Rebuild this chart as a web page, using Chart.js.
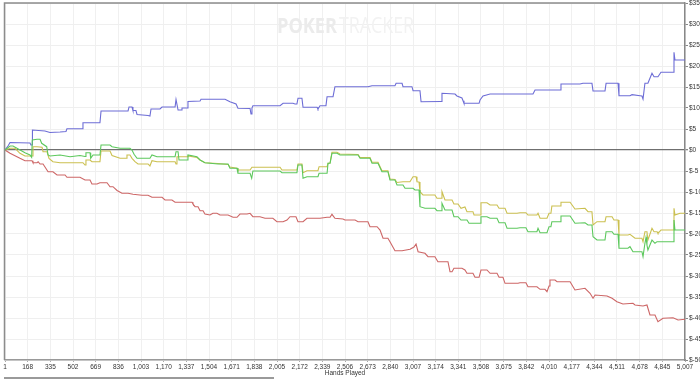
<!DOCTYPE html>
<html><head><meta charset="utf-8">
<script src="https://cdn.jsdelivr.net/npm/chart.js@4.4.1/dist/chart.umd.min.js"></script>
<style>html,body{margin:0;padding:0;background:#fff;}#wrap{width:700px;height:379px;position:relative;}</style>
</head><body><div id="wrap"><canvas id="c" width="700" height="379"></canvas></div>
<script>
// ---- axis definitions ----
const xTickLabels = ['1','168','335','502','669','836','1,003','1,170','1,337','1,504','1,671','1,838','2,005','2,172','2,339','2,506','2,673','2,840','3,007','3,174','3,341','3,508','3,675','3,842','4,010','4,177','4,344','4,511','4,678','4,845','5,007'];
const handsMin = 1, handsMax = 5007;
const yMin = -50, yMax = 35, yStep = 5;
const xTitle = 'Hands Played';

// ---- series: [hand, dollars] ----
const showdown = [[1,0],[23,0.95],[38,1.79],[185,1.67],[192,1.19],[200,1.19],[203,4.76],[295,4.52],[332,4.17],[406,4.29],[450,4.4],[457,5.07],[568,5.07],[575,6.5],[700,6.5],[708,9.29],[907,9.29],[914,10.24],[936,10.24],[943,9.4],[965,9.4],[973,8.45],[1054,8.21],[1068,8.1],[1076,9.76],[1142,9.76],[1157,10.24],[1253,10.24],[1260,12.02],[1267,12.02],[1275,9.52],[1297,9.52],[1304,10.0],[1341,10.0],[1348,11.55],[1437,11.67],[1444,12.07],[1621,12.07],[1657,11.5],[1702,10.95],[1716,9.93],[1805,9.88],[1812,8.57],[1819,10.0],[1826,10.55],[2026,10.55],[2048,11.12],[2121,11.12],[2136,10.95],[2150,10.95],[2158,12.31],[2187,12.31],[2195,10.17],[2298,10.17],[2305,9.76],[2320,10.55],[2364,10.55],[2372,12.69],[2416,12.69],[2430,15.07],[2673,15.07],[2703,15.31],[2872,15.31],[2880,15.88],[2924,15.88],[2931,15.07],[2997,15.07],[3005,14.12],[3056,14.12],[3064,11.5],[3211,11.55],[3218,13.5],[3314,13.33],[3328,12.86],[3365,12.38],[3373,11.74],[3380,11.12],[3491,11.12],[3498,11.9],[3520,12.86],[3572,13.33],[3888,13.33],[3903,14.29],[4087,14.29],[4094,15.71],[4234,15.71],[4256,15.88],[4322,15.88],[4330,14.05],[4418,14.05],[4426,15.88],[4514,15.88],[4521,12.93],[4602,12.93],[4617,13.17],[4676,12.93],[4690,12.86],[4698,12.14],[4712,15.88],[4734,15.88],[4764,18.26],[4779,17.45],[4808,17.45],[4830,18.5],[4919,18.5],[4926,23.26],[4933,21.43],[5007,21.43]];

const nonShowdown = [[1,0],[38,-0.79],[111,-1.98],[148,-2.55],[200,-2.55],[207,-3.02],[237,-3.02],[245,-2.79],[259,-3.33],[281,-3.33],[318,-5.17],[354,-5.17],[384,-5.95],[443,-5.95],[457,-6.5],[553,-6.5],[590,-7.14],[627,-7.14],[641,-8.1],[678,-8.1],[700,-7.79],[752,-7.79],[774,-8.74],[796,-8.74],[826,-9.64],[862,-10.31],[907,-10.31],[943,-10.55],[1010,-10.79],[1054,-10.79],[1083,-11.26],[1157,-11.26],[1179,-11.9],[1230,-11.9],[1253,-12.45],[1378,-12.45],[1385,-12.86],[1400,-13.5],[1422,-13.5],[1437,-14.45],[1459,-14.45],[1473,-15.24],[1510,-15.48],[1532,-15.07],[1561,-15.07],[1584,-15.48],[1643,-15.48],[1680,-16.02],[1709,-16.02],[1731,-15.24],[1783,-15.24],[1805,-15.07],[1826,-15.88],[1878,-15.88],[1915,-16.26],[1973,-16.26],[2003,-17.07],[2048,-17.07],[2077,-16.67],[2099,-15.88],[2143,-15.88],[2158,-17.07],[2195,-17.07],[2224,-16.26],[2320,-16.26],[2372,-16.02],[2394,-16.02],[2408,-15.31],[2430,-16.26],[2489,-16.43],[2504,-16.67],[2578,-16.67],[2600,-17.07],[2673,-17.07],[2688,-18.26],[2740,-18.26],[2762,-19.05],[2784,-21.02],[2820,-21.02],[2835,-21.83],[2872,-23.98],[2924,-23.98],[2983,-23.64],[3012,-23.1],[3027,-22.38],[3042,-24.21],[3093,-24.6],[3115,-25.4],[3166,-25.4],[3188,-26.6],[3262,-26.6],[3277,-28.98],[3292,-28.98],[3306,-28.17],[3365,-28.17],[3387,-28.57],[3402,-29.36],[3446,-29.36],[3461,-30.31],[3491,-30.31],[3505,-28.57],[3549,-28.57],[3572,-29.36],[3623,-29.36],[3638,-30.31],[3667,-30.31],[3682,-31.74],[3778,-31.74],[3792,-31.6],[3836,-31.6],[3851,-32.55],[3917,-32.55],[3940,-33.17],[3976,-33.17],[3991,-33.74],[4006,-32.38],[4013,-30.95],[4050,-30.95],[4065,-31.36],[4161,-31.36],[4197,-33.33],[4271,-32.93],[4308,-34.12],[4330,-35.31],[4345,-34.52],[4433,-34.76],[4470,-35.31],[4506,-36.12],[4550,-36.67],[4624,-36.5],[4639,-36.9],[4698,-37.14],[4727,-36.9],[4749,-39.29],[4786,-39.29],[4808,-40.88],[4845,-40.07],[4919,-39.93],[4956,-40.48],[5007,-40.31]];

const netWon = [[1,0],[38,0.95],[60,0.95],[148,-0.64],[185,-1.19],[197,-1.74],[202,2.38],[237,2.55],[259,2.55],[271,1.6],[308,0.79],[318,-1.19],[332,-1.43],[406,-1.19],[480,-1.6],[553,-1.31],[590,-1.55],[597,-0.64],[627,-0.64],[632,-1.98],[649,-1.19],[700,-1.19],[708,1.19],[774,1.19],[789,0.79],[848,0.4],[921,0.4],[936,0],[951,-1.02],[973,-1.98],[1068,-1.98],[1083,-1.19],[1120,-1.6],[1253,-1.6],[1260,-0.4],[1275,-0.4],[1282,-2.38],[1341,-2.38],[1348,-1.19],[1414,-1.6],[1437,-2.38],[1473,-3.02],[1569,-3.33],[1643,-3.33],[1657,-4.36],[1709,-4.36],[1716,-5.55],[1805,-5.55],[1817,-6.74],[1826,-5.0],[2026,-5.0],[2040,-5.4],[2150,-5.4],[2158,-3.57],[2187,-3.57],[2195,-6.74],[2224,-6.36],[2305,-6.36],[2313,-5.55],[2372,-5.55],[2379,-3.17],[2394,-3.17],[2408,-0.79],[2445,-0.79],[2467,-1.19],[2600,-1.19],[2615,-1.98],[2688,-1.98],[2703,-3.17],[2747,-3.17],[2776,-5.17],[2820,-5.17],[2835,-7.14],[2872,-7.14],[2887,-8.33],[2931,-8.33],[2946,-9.12],[3005,-9.12],[3019,-9.52],[3049,-9.52],[3056,-13.5],[3093,-13.88],[3166,-13.88],[3181,-14.45],[3211,-14.45],[3218,-12.69],[3240,-14.29],[3292,-14.29],[3306,-15.88],[3336,-15.88],[3358,-16.67],[3402,-16.67],[3417,-17.45],[3498,-17.45],[3505,-15.88],[3549,-15.88],[3572,-16.26],[3623,-16.26],[3638,-17.31],[3682,-17.31],[3697,-18.64],[3770,-18.64],[3792,-18.5],[3836,-18.5],[3851,-19.45],[3917,-19.45],[3925,-18.64],[3940,-19.69],[3991,-19.69],[4006,-18.26],[4020,-18.26],[4027,-17.07],[4087,-17.07],[4094,-15.71],[4161,-15.71],[4197,-17.45],[4271,-17.31],[4293,-17.86],[4322,-17.86],[4330,-20.64],[4359,-21.43],[4418,-21.43],[4426,-19.45],[4470,-19.45],[4484,-20.07],[4514,-20.07],[4521,-23.4],[4587,-23.4],[4602,-23.02],[4624,-24.21],[4690,-24.21],[4698,-25.4],[4712,-22.21],[4720,-20.79],[4727,-22.62],[4734,-23.81],[4749,-22.62],[4764,-21.43],[4786,-22.21],[4801,-21.83],[4919,-21.83],[4926,-16.67],[4933,-19.05],[5007,-19.05]];

const allInEV = [[1,0],[38,0.4],[75,0.4],[111,-0.79],[148,-1.43],[200,-1.43],[207,0.79],[237,0.79],[274,0.64],[281,-0.4],[310,-0.4],[325,-1.98],[354,-2.79],[406,-3.02],[575,-3.02],[590,-3.57],[597,-2.38],[627,-2.38],[641,-2.79],[700,-2.79],[708,-0.24],[774,-0.24],[789,-1.31],[848,-1.98],[892,-1.98],[899,-1.19],[921,-1.19],[936,-1.98],[958,-2.79],[980,-3.33],[1054,-3.33],[1068,-3.81],[1083,-2.55],[1120,-2.79],[1253,-2.79],[1260,-3.33],[1267,-1.6],[1341,-1.6],[1348,-1.43],[1414,-1.79],[1437,-2.38],[1473,-3.02],[1569,-3.21],[1643,-3.45],[1657,-4.05],[1709,-4.36],[1716,-4.76],[1805,-4.76],[1819,-4.12],[2026,-4.12],[2040,-4.76],[2150,-4.76],[2158,-3.33],[2187,-3.33],[2195,-5.4],[2224,-4.93],[2305,-4.93],[2313,-3.98],[2372,-3.98],[2379,-3.17],[2394,-3.1],[2408,-0.55],[2445,-0.55],[2467,-0.95],[2600,-1.07],[2615,-1.79],[2688,-1.79],[2703,-2.93],[2747,-2.93],[2776,-4.93],[2820,-4.93],[2835,-6.9],[2872,-7.02],[2887,-7.74],[2931,-7.55],[2982,-7.55],[3005,-6.36],[3027,-6.36],[3034,-7.55],[3049,-7.62],[3056,-9.93],[3078,-10.71],[3166,-10.71],[3181,-11.5],[3211,-11.5],[3218,-9.93],[3240,-11.9],[3292,-11.9],[3306,-12.86],[3336,-12.86],[3358,-13.88],[3387,-13.57],[3402,-14.69],[3446,-14.69],[3454,-15.48],[3498,-15.48],[3505,-12.55],[3549,-12.55],[3572,-13.1],[3623,-13.1],[3638,-13.88],[3682,-13.88],[3697,-15.07],[3770,-15.07],[3792,-14.93],[3836,-14.93],[3851,-15.48],[3917,-15.48],[3925,-15.07],[3940,-16.26],[3991,-16.26],[4006,-15.07],[4020,-15.07],[4027,-13.33],[4087,-13.33],[4094,-12.45],[4161,-12.45],[4197,-14.05],[4271,-13.88],[4293,-14.69],[4322,-14.69],[4330,-17.86],[4359,-17.07],[4418,-17.07],[4426,-15.88],[4470,-15.88],[4484,-16.67],[4514,-16.67],[4521,-20.24],[4587,-20.24],[4602,-20.07],[4639,-21.02],[4690,-21.02],[4698,-21.83],[4712,-19.45],[4727,-19.45],[4734,-21.43],[4764,-18.64],[4779,-19.45],[4801,-19.45],[4808,-19.83],[4830,-19.05],[4919,-19.05],[4926,-13.88],[4933,-15.48],[4970,-15.07],[5007,-15.07]];

const toPts = a => a.map(([x, y]) => ({x, y}));
const tickFont = {family: "'Liberation Sans Narrow','Liberation Sans',Arial,sans-serif", size: 6.5};

const framePlugin = {
  id: 'frame',
  beforeDatasetsDraw(chart) {
    const ctx = chart.ctx;
    ctx.save();
    ctx.textBaseline = 'alphabetic';
    ctx.font = "bold 21px 'Open Sans', sans-serif";
    ctx.fillStyle = '#ebebeb';
    let w = ctx.measureText('POKER').width;
    ctx.translate(277, 33);
    ctx.scale(60 / w, 1);
    ctx.fillText('POKER', 0, 0);
    ctx.restore();
    ctx.save();
    ctx.font = "21px 'Open Sans', sans-serif";
    ctx.fillStyle = '#f2f2f2';
    w = ctx.measureText('TRACKER').width;
    ctx.translate(339, 33);
    ctx.scale(75 / w, 1);
    ctx.fillText('TRACKER', 0, 0);
    ctx.restore();
  },
  afterDraw(chart) {
    const {ctx, chartArea: a} = chart;
    ctx.save();
    ctx.strokeStyle = '#8c8c8c';
    ctx.lineWidth = 1.5;
    ctx.beginPath();
    ctx.moveTo(a.left - 0.5, a.bottom);
    ctx.lineTo(a.left - 0.5, a.top);
    ctx.lineTo(a.right, a.top);
    ctx.stroke();
    ctx.fillStyle = '#9a9a9a';
    ctx.fillRect(4, 377, 270, 2);
    ctx.restore();
  }
};

new Chart(document.getElementById('c'), {
  type: 'line',
  data: {
    datasets: [
      {label: 'Net Won', data: toPts(netWon), borderColor: '#5cc85c', order: 1},
      {label: 'All-in Adj', data: toPts(allInEV), borderColor: '#cbc050', order: 2},
      {label: 'Showdown', data: toPts(showdown), borderColor: '#6d6dd6', order: 3},
      {label: 'Non-showdown', data: toPts(nonShowdown), borderColor: '#cd6666', order: 4}
    ]
  },
  options: {
    responsive: false,
    animation: false,
    events: [],
    layout: {padding: {left: 5, top: 3, right: 0, bottom: 0}},
    elements: {
      line: {borderWidth: 1.1, tension: 0, fill: false},
      point: {radius: 0}
    },
    plugins: {legend: {display: false}, tooltip: {enabled: false}},
    scales: {
      x: {
        type: 'linear', min: handsMin, max: handsMax,
        afterBuildTicks: s => { s.ticks = xTickLabels.map((_, i) => ({value: handsMin + i * (handsMax - handsMin) / (xTickLabels.length - 1)})); },
        ticks: {autoSkip: false, maxRotation: 0, minRotation: 0, font: tickFont, color: '#333', padding: 1,
          callback: (v, i) => xTickLabels[i]},
        grid: {color: '#f0f0f0', tickLength: 2, tickColor: '#aaa'},
        border: {color: '#999', width: 1.5},
        title: {display: true, text: xTitle, font: tickFont, color: '#333', padding: {top: 0, bottom: 1.5}},
        afterFit: s => { s.height = 19; s.paddingLeft = 0; s.paddingRight = 0; }
      },
      y: {
        position: 'right', min: yMin, max: yMax,
        ticks: {stepSize: yStep, font: tickFont, color: '#333', padding: 1, callback: v => '$' + v},
        grid: {
          color: c => (c.tick && c.tick.value === 0) ? '#6f6f6f' : '#efefef',
          lineWidth: c => (c.tick && c.tick.value === 0) ? 1.3 : 1,
          tickLength: 3, tickColor: '#888'
        },
        border: {color: '#888', width: 1.5},
        afterFit: s => { s.width = 15; s.paddingTop = 0; s.paddingBottom = 0; }
      }
    }
  },
  plugins: [framePlugin]
});
</script></body></html>
